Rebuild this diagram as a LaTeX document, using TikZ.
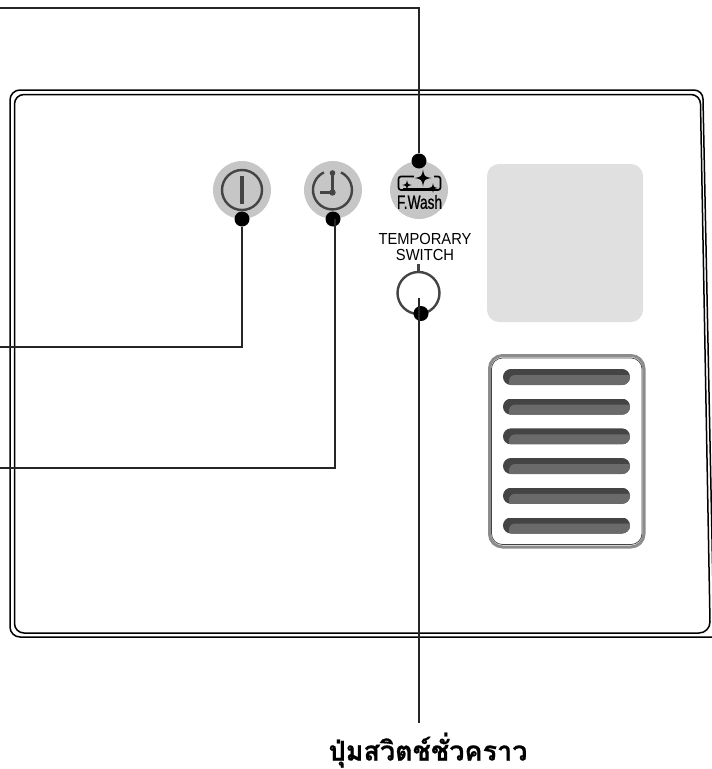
\documentclass[tikz,border=0pt]{standalone}
\usepackage{fontspec}
\setmainfont{Liberation Sans}
\newfontfamily\thaifont[Script=Thai]{Loma}
\definecolor{ink}{HTML}{444444}
\definecolor{disc}{HTML}{C6C6C6}
\definecolor{panelgrey}{HTML}{E0E0E0}
\definecolor{slatdark}{HTML}{444444}
\definecolor{slatlight}{HTML}{6A6A6A}
\definecolor{ventrim}{HTML}{8C8C8C}
\tikzset{
  dotmark/.style={circle,fill=black,inner sep=0pt,minimum size=15pt},
  leader/.style={draw=black!85,line width=1.3pt},
  discnode/.style={circle,fill=disc,inner sep=0pt,minimum size=58pt},
  iconline/.style={draw=ink,line width=2.4pt},
  sparkle/.pic={\fill[black] (0,-1) .. controls (.15,-.15) .. (1,0) .. controls (.15,.15) .. (0,1) .. controls (-.15,.15) .. (-1,0) .. controls (-.15,-.15) .. cycle;}
}
\newcommand{\slatat}[1]{%
  \begin{scope}
    \clip[rounded corners=7.9pt] (503,#1) rectangle (630,#1+16);
    \fill[slatdark] (503,#1) rectangle (630,#1+16);
    \fill[slatlight] (509,#1+17) -- (509,#1+12) arc[start angle=180,end angle=270,radius=6] -- (631,#1+6) -- (631,#1+17) -- cycle;
  \end{scope}
}
\begin{document}
\begin{tikzpicture}[x=1pt,y=-1pt]
\useasboundingbox (0,0) rectangle (712,769);
% housing
\draw[black,line width=1.5pt] (716,637) -- (20,637) arc[start angle=90,end angle=180,radius=10] -- (10,100) arc[start angle=180,end angle=270,radius=10] -- (694,90) arc[start angle=270,end angle=360,radius=9] -- (714,637);
\draw[black,line width=1.5pt] (24,633) arc[start angle=90,end angle=180,radius=9.5] -- (14.5,104) arc[start angle=180,end angle=270,radius=9.5] -- (691,94.5) arc[start angle=270,end angle=360,radius=9.5] -- (710,622) arc[start angle=0,end angle=90,radius=11] -- cycle;
% panels
\fill[panelgrey,rounded corners=12pt] (487,164) rectangle (643,322);
\draw[ventrim,line width=3pt,rounded corners=13pt] (489.5,355.5) rectangle (644,547);
\draw[ink,line width=.7pt,rounded corners=11pt] (491.5,358) rectangle (642,544.5);
\slatat{369}
\slatat{398.7}
\slatat{428.4}
\slatat{458}
\slatat{487.8}
\slatat{517.5}
% discs
\node[discnode] (power) at (242,190) {};
\node[discnode] (clock) at (333,190) {};
\node[discnode] (fwash) at (419,190) {};
% power icon
\draw[iconline] (power.center) circle (20);
\draw[ink,line width=4.4pt] (242,176) -- (242,204);
% clock icon
\draw[iconline] (341,172.4) arc[start angle=-64,end angle=244,radius=19.5];
\draw[ink,line width=2.6pt] (332.5,172) -- (332.5,192.5) -- (320,192.5);
\fill[ink] (332.5,173) circle (2.8);
\fill[ink] (332.5,192.5) circle (3.2);
% F.Wash icon
\draw[black,line width=1.7pt,rounded corners=2.5pt] (398.5,176.5) rectangle (440.5,190);
\fill[disc] (414,172) rectangle (434,179);
\draw[black,line width=.8pt] (403,188) -- (433,188);
\pic[scale=8.5] at (423,178) {sparkle};
\pic[scale=5] at (407,185) {sparkle};
\pic[scale=5] at (433,188) {sparkle};
\node[inner sep=0pt,font=\fontsize{19}{19}\selectfont] (fwlabel) at (419.5,202) {\addfontfeature{FakeStretch=0.72,FakeBold=0.8}F.Wash};
% temporary switch
\node[align=center,inner sep=0pt,font=\fontsize{16}{16.5}\selectfont] (templabel) at (425,247) {\addfontfeature{FakeStretch=0.92}TEMPORARY\\\addfontfeature{FakeStretch=0.92}SWITCH};
\node[circle,draw=ink,line width=2.4pt,inner sep=0pt,minimum size=42pt] (tswitch) at (418.5,293) {};
\coordinate (stubtop) at (418.5,264);
\draw[ink,line width=2.6pt] (stubtop) -- (tswitch.north);
% leader lines
\node[dotmark] (dpower) at (242,219) {};
\node[dotmark] (dclock) at (333,219) {};
\node[dotmark] (dfwash) at (419,161) {};
\node[dotmark] (dswitch) at (421,313.5) {};
\coordinate (lpower) at (0,347);
\coordinate (lclock) at (0,468);
\coordinate (lfwash) at (0,8);
\coordinate (swtop) at (419,298);
\coordinate (swend) at (419,723);
\draw[leader] (lfwash) -| (dfwash);
\draw[leader] (lpower) -| (dpower);
\draw[leader] (lclock) -- (335,468) -- (335,219);
\draw[leader] (swtop) -- (swend);
\node[inner sep=0pt,anchor=base,font=\fontsize{27}{27}\selectfont\bfseries] (caption) at (428,760.5) {\thaifont\addfontfeature{FakeBold=0.5}ปุ่มสวิตช์ชั่วคราว};
\end{tikzpicture}
\end{document}
